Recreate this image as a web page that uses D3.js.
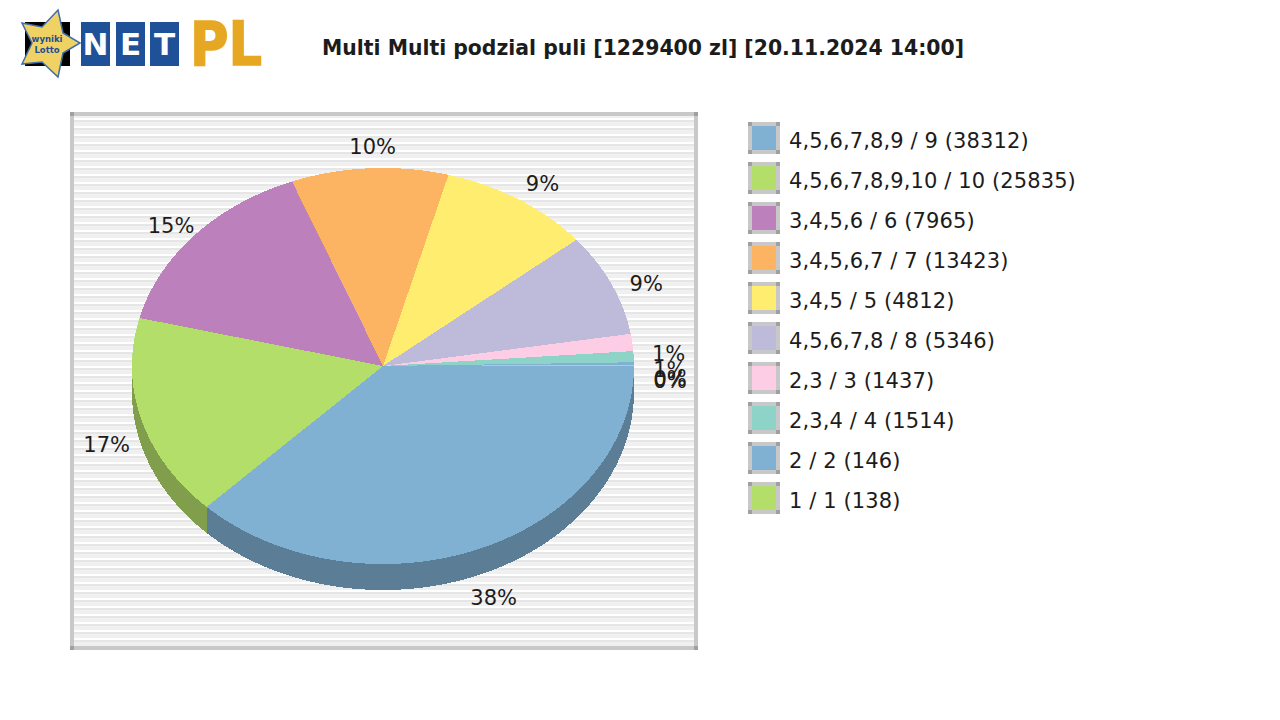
<!DOCTYPE html>
<html><head><meta charset="utf-8">
<script src="https://cdnjs.cloudflare.com/ajax/libs/d3/7.8.5/d3.min.js"></script>
<style>html,body{margin:0;background:#fff}svg{display:block}text{font-family:"DejaVu Sans";fill:#1c1c1c}</style>
</head><body><svg id="c" width="1280" height="720"></svg>
<script>
const categories=["4,5,6,7,8,9 / 9 (38312)","4,5,6,7,8,9,10 / 10 (25835)","3,4,5,6 / 6 (7965)","3,4,5,6,7 / 7 (13423)","3,4,5 / 5 (4812)","4,5,6,7,8 / 8 (5346)","2,3 / 3 (1437)","2,3,4 / 4 (1514)","2 / 2 (146)","1 / 1 (138)"];
const shares=[37.4,16.5,15.2,10.1,9.8,8.4,1.4,0.9,0.2,0.1];
const percentLabels=["38%","17%","15%","10%","9%","9%","1%","1%","0%","0%"];
const colors=["#80b1d3","#b3de69","#bc80bd","#fdb462","#ffed6f","#bebada","#fccde5","#8dd3c7","#80b1d3","#b3de69"];
const title="Multi Multi podzial puli [1229400 zl] [20.11.2024 14:00]";

const svg=d3.select("#c");
// plot frame
const F={x:70,y:112,w:628,h:538,b:4};
const defs=svg.append("defs");
const pat=defs.append("pattern").attr("id","st").attr("patternUnits","userSpaceOnUse").attr("width",8).attr("height",8).attr("y",F.y+F.b);
[["#f0f0f0",0,2],["#ffffff",2,2],["#e6e6e6",4,2],["#f0f0f0",6,2]].forEach(d=>pat.append("rect").attr("y",d[1]).attr("width",8).attr("height",d[2]).attr("fill",d[0]));
svg.append("rect").attr("x",F.x).attr("y",F.y).attr("width",F.w).attr("height",F.h).attr("fill","#c8c8c8");
svg.append("rect").attr("x",F.x+F.b).attr("y",F.y+F.b).attr("width",F.w-2*F.b).attr("height",F.h-2*F.b).attr("fill","url(#st)");
[[F.x,F.y],[F.x+F.w-F.b,F.y],[F.x,F.y+F.h-F.b],[F.x+F.w-F.b,F.y+F.h-F.b]].forEach(p=>svg.append("rect").attr("x",p[0]).attr("y",p[1]).attr("width",F.b).attr("height",F.b).attr("fill","#a0a0a0"));

// pie
const cx=383,cy=366,rx=251,ry=198,depth=26;
const sx=d3.scaleLinear().domain([-1,1]).range([cx-rx,cx+rx]);
const sy=d3.scaleLinear().domain([-1,1]).range([cy-ry,cy+ry]);
const slices=d3.pie().sort(null).value(d=>d).startAngle(0).endAngle(2*Math.PI)(shares);
const px=t=>sx(Math.cos(t)),py=t=>sy(Math.sin(t));
const G=svg.append("g").attr("shape-rendering","crispEdges");
const line=d3.line();
// side wall
slices.forEach((s,i)=>{
  const a=Math.max(s.startAngle,0),b=Math.min(s.endAngle,Math.PI);
  if(b<=a)return;
  const ts=d3.range(a,b,0.01).concat([b]);
  const pts=ts.map(t=>[px(t),py(t)]).concat(ts.slice().reverse().map(t=>[px(t),py(t)+depth]));
  G.append("path").attr("d",line(pts)+"Z").attr("fill",d3.color(colors[i]).darker(0.95).formatHex());
});
// top
slices.forEach((s,i)=>{
  const ts=d3.range(s.startAngle,s.endAngle,0.01).concat([s.endAngle]);
  const pts=[[cx,cy]].concat(ts.map(t=>[px(t),py(t)]));
  G.append("path").attr("d",line(pts)+"Z").attr("fill",colors[i]);
});
// percent labels
slices.forEach((s,i)=>{
  const m=(s.startAngle+s.endAngle)/2;
  const sn=Math.sin(m);
  svg.append("text").attr("x",cx+287*Math.cos(m)+(sn<0?-5*sn:0)).attr("y",cy+15+235*sn+(sn>0?0:0)).attr("dy","0.36em")
    .attr("text-anchor","middle").attr("font-size",21).text(percentLabels[i]);
});
// legend
const ly=d3.scalePoint().domain(d3.range(categories.length)).range([122,482]);
categories.forEach((c,i)=>{
  const y=ly(i),x=748;
  svg.append("rect").attr("x",x).attr("y",y).attr("width",32).attr("height",32).attr("fill","#c8c8c8");
  [[0,0],[28,0],[0,28],[28,28]].forEach(p=>svg.append("rect").attr("x",x+p[0]).attr("y",y+p[1]).attr("width",4).attr("height",4).attr("fill","#a0a0a0"));
  svg.append("rect").attr("x",x+4).attr("y",y+4).attr("width",24).attr("height",24).attr("fill",colors[i]);
  svg.append("text").attr("x",789).attr("y",y+18).attr("dy","0.36em").attr("font-size",21).attr("letter-spacing",0.11).text(c);
});
// title
svg.append("text").attr("x",322).attr("y",48).attr("dy","0.36em").attr("font-size",20.4).attr("font-weight","bold").text(title);
// logo
const logo=svg.append("g");
logo.append("rect").attr("x",25).attr("y",22).attr("width",45).attr("height",44).attr("fill","#000");
logo.append("polygon").attr("points","58,10 63,33 80,43 63,53 58,77 42,62 22,64 32,43 22,23 42,27").attr("fill","#f0d264").attr("stroke","#3f6ea8").attr("stroke-width",1.5);
logo.append("text").attr("x",47).attr("y",42).attr("text-anchor","middle").attr("font-size",8.5).attr("font-weight","bold").style("fill","#1f4f96").text("wyniki");
logo.append("text").attr("x",47).attr("y",53).attr("text-anchor","middle").attr("font-size",8.5).attr("font-weight","bold").style("fill","#1f4f96").text("Lotto");
[["N",81],["E",116],["T",150]].forEach(d=>{
  logo.append("rect").attr("x",d[1]).attr("y",22).attr("width",29).attr("height",44).attr("fill","#1f5199");
  logo.append("text").attr("x",d[1]+14.5).attr("y",55).attr("text-anchor","middle").attr("font-size",31).attr("font-weight","bold").style("fill","#fff").text(d[0]);
});
logo.append("text").attr("x",190).attr("y",65).attr("font-size",60).attr("font-weight","bold").attr("textLength",72).attr("lengthAdjust","spacingAndGlyphs").style("fill","#e6a823").style("stroke","#e6a823").style("stroke-width",1.5).text("PL");
</script></body></html>
